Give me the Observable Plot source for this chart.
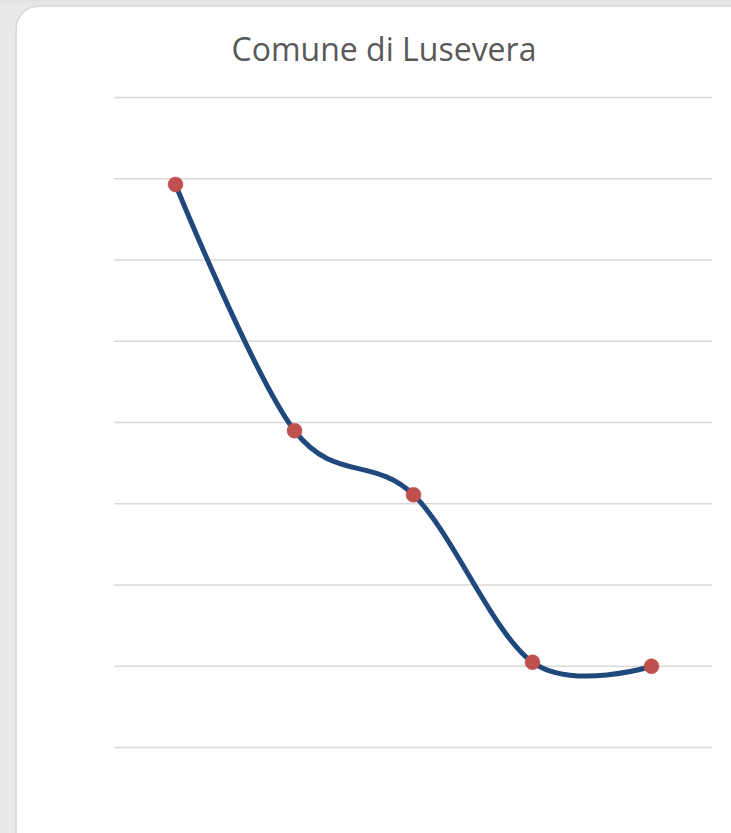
<!DOCTYPE html>
<html>
<head>
<meta charset="utf-8">
<script src="https://cdn.jsdelivr.net/npm/d3@7"></script>
<script src="https://cdn.jsdelivr.net/npm/@observablehq/plot@0.6"></script>
<style>
  html, body { margin: 0; padding: 0; width: 731px; height: 833px; overflow: hidden; }
  body { background: linear-gradient(90deg, #e9e9e9 0%, #f1f1f1 100%); position: relative; font-family: "Open Sans", "Liberation Sans", sans-serif; }
  .topband { position: absolute; left: 0; top: 0; width: 731px; height: 8px; background: linear-gradient(180deg, #e2e2e2, #ececec); }
  .card { position: absolute; left: 15px; top: 5px; width: 760px; height: 860px; background: #fff; border: 2px solid #dcdcdc; border-radius: 24px; box-sizing: border-box; }
  .title { position: absolute; left: 0; top: 33px; width: 768px; text-align: center; font-size: 32px; line-height: 32px; color: #595959; }
  #chart { position: absolute; left: 0; top: 0; }
</style>
</head>
<body>
<div class="topband"></div>
<div class="card"></div>
<div class="title">Comune di Lusevera</div>
<div id="chart"></div>
<script>
const years = ["1971", "1981", "1991", "2001", "2011"];
const values = [693, 390, 311, 105, 100];
const gridTicks = [0, 100, 200, 300, 400, 500, 600, 700, 800];

const data = years.map((y, i) => ({ year: y, value: values[i] }));

const chart = Plot.plot({
  width: 731,
  height: 833,
  marginLeft: 114,
  marginRight: 19,
  marginTop: 97,
  marginBottom: 86,
  style: { background: "transparent", overflow: "visible" },
  x: { type: "point", domain: years, padding: 0.5, axis: null },
  y: { domain: [0, 800], axis: null },
  marks: [
    Plot.ruleY(gridTicks, { stroke: "#d9d9d9", strokeWidth: 1.5 }),
    Plot.line(data, { x: "year", y: "value", curve: d3.curveCatmullRom.alpha(0), stroke: "#1f497d", strokeWidth: 5, strokeLinecap: "round" }),
    Plot.dot(data, { x: "year", y: "value", r: 7.5, fill: "#c0504d", stroke: "#c0504d", strokeWidth: 0.5 })
  ]
});
document.getElementById("chart").appendChild(chart);
</script>
</body>
</html>
